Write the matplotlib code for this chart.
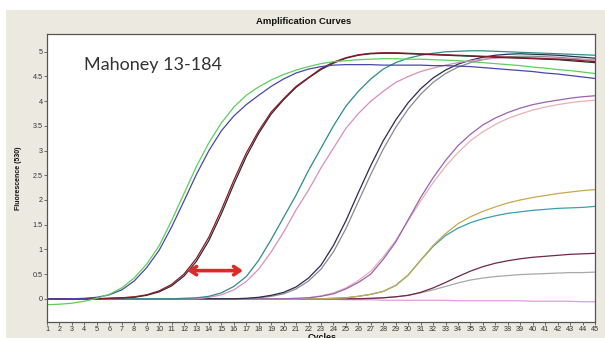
import matplotlib
matplotlib.use("Agg")
import matplotlib.pyplot as plt
from matplotlib.patches import Rectangle

cycles = list(range(1, 46))

green = [-0.12, -0.11, -0.09, -0.05, 0.01, 0.09, 0.22, 0.42, 0.70, 1.07,
         1.58, 2.13, 2.68, 3.16, 3.56, 3.88, 4.12, 4.29, 4.43, 4.54,
         4.63, 4.70, 4.76, 4.80, 4.82, 4.84, 4.85, 4.86, 4.86, 4.85,
         4.85, 4.84, 4.83, 4.82, 4.80, 4.78, 4.76, 4.74, 4.72, 4.69,
         4.67, 4.64, 4.62, 4.59, 4.56]
blue = [0.00, 0.00, 0.00, 0.01, 0.03, 0.08, 0.18, 0.36, 0.63, 0.98,
        1.45, 1.98, 2.52, 3.00, 3.40, 3.70, 3.93, 4.12, 4.30, 4.45,
        4.57, 4.65, 4.70, 4.73, 4.74, 4.74, 4.74, 4.73, 4.73, 4.73,
        4.73, 4.72, 4.72, 4.71, 4.70, 4.68, 4.66, 4.64, 4.62, 4.60,
        4.57, 4.55, 4.52, 4.49, 4.46]
darkred = [0.00, 0.00, 0.00, 0.00, 0.00, 0.01, 0.02, 0.04, 0.08, 0.16,
           0.29, 0.50, 0.82, 1.25, 1.80, 2.40, 2.95, 3.40, 3.78, 4.05,
           4.30, 4.48, 4.66, 4.79, 4.88, 4.94, 4.97, 4.98, 4.98, 4.97,
           4.96, 4.95, 4.94, 4.93, 4.92, 4.91, 4.90, 4.89, 4.88, 4.87,
           4.86, 4.85, 4.84, 4.82, 4.80]
black = [0.00, 0.00, 0.00, 0.00, 0.00, 0.01, 0.02, 0.03, 0.07, 0.14,
         0.26, 0.46, 0.76, 1.18, 1.72, 2.32, 2.88, 3.35, 3.74, 4.03,
         4.28, 4.47, 4.64, 4.77, 4.87, 4.93, 4.96, 4.97, 4.97, 4.96,
         4.95, 4.94, 4.93, 4.92, 4.91, 4.90, 4.89, 4.88, 4.87, 4.86,
         4.85, 4.84, 4.82, 4.80, 4.78]
teal = [0.00, 0.00, 0.00, 0.00, 0.00, 0.00, 0.00, 0.00, 0.00, 0.00,
        0.00, 0.01, 0.02, 0.05, 0.12, 0.25, 0.45, 0.78, 1.20, 1.65,
        2.10, 2.60, 3.05, 3.50, 3.90, 4.20, 4.45, 4.65, 4.78, 4.87,
        4.93, 4.97, 5.00, 5.01, 5.02, 5.02, 5.01, 5.00, 4.99, 4.98,
        4.97, 4.96, 4.95, 4.94, 4.93]
pink = [0.00, 0.00, 0.00, 0.00, 0.00, 0.00, 0.00, 0.00, 0.00, 0.00,
        0.00, 0.00, 0.00, 0.03, 0.08, 0.18, 0.35, 0.60, 0.95, 1.35,
        1.80, 2.20, 2.65, 3.05, 3.45, 3.75, 4.00, 4.20, 4.38, 4.50,
        4.60, 4.67, 4.73, 4.78, 4.82, 4.85, 4.87, 4.88, 4.88, 4.88,
        4.87, 4.86, 4.85, 4.84, 4.83]
navy = [0.00, 0.00, 0.00, 0.00, 0.00, 0.00, 0.00, 0.00, 0.00, 0.00,
        0.00, 0.00, 0.00, 0.00, 0.00, 0.00, 0.01, 0.03, 0.07, 0.13,
        0.24, 0.42, 0.68, 1.08, 1.58, 2.15, 2.70, 3.20, 3.62, 3.97,
        4.25, 4.47, 4.63, 4.75, 4.83, 4.89, 4.93, 4.95, 4.96, 4.95,
        4.94, 4.93, 4.91, 4.89, 4.87]
gray = [0.00, 0.00, 0.00, 0.00, 0.00, 0.00, 0.00, 0.00, 0.00, 0.00,
        0.00, 0.00, 0.00, 0.00, 0.00, 0.00, 0.00, 0.02, 0.05, 0.10,
        0.20, 0.36, 0.60, 0.95, 1.42, 1.97, 2.52, 3.03, 3.47, 3.84,
        4.14, 4.38, 4.56, 4.69, 4.78, 4.84, 4.88, 4.90, 4.91, 4.91,
        4.90, 4.89, 4.87, 4.85, 4.83]
purple = [0.00, 0.00, 0.00, 0.00, 0.00, 0.00, 0.00, 0.00, 0.00, 0.00,
          0.00, 0.00, 0.00, 0.00, 0.00, 0.00, 0.00, 0.00, 0.00, 0.00,
          0.01, 0.02, 0.05, 0.10, 0.20, 0.33, 0.50, 0.80, 1.15, 1.60,
          2.05, 2.45, 2.80, 3.10, 3.33, 3.52, 3.66, 3.77, 3.86, 3.93,
          3.98, 4.02, 4.06, 4.09, 4.11]
lightpink = [0.00, 0.00, 0.00, 0.00, 0.00, 0.00, 0.00, 0.00, 0.00, 0.00,
             0.00, 0.00, 0.00, 0.00, 0.00, 0.00, 0.00, 0.00, 0.00, 0.00,
             0.00, 0.02, 0.06, 0.12, 0.22, 0.37, 0.56, 0.85, 1.18, 1.58,
             1.98, 2.35, 2.68, 2.96, 3.20, 3.38, 3.53, 3.65, 3.74, 3.82,
             3.88, 3.93, 3.97, 4.00, 4.02]
orange = [0.00, 0.00, 0.00, 0.00, 0.00, 0.00, 0.00, 0.00, 0.00, 0.00,
          0.00, 0.00, 0.00, 0.00, 0.00, 0.00, 0.00, 0.00, 0.00, 0.00,
          0.00, 0.00, 0.00, 0.01, 0.02, 0.05, 0.09, 0.15, 0.27, 0.48,
          0.78, 1.08, 1.32, 1.52, 1.66, 1.77, 1.86, 1.94, 2.00, 2.05,
          2.09, 2.13, 2.16, 2.19, 2.21]
teal2 = [0.00, 0.00, 0.00, 0.00, 0.00, 0.00, 0.00, 0.00, 0.00, 0.00,
         0.00, 0.00, 0.00, 0.00, 0.00, 0.00, 0.00, 0.00, 0.00, 0.00,
         0.00, 0.00, 0.00, 0.01, 0.02, 0.05, 0.09, 0.15, 0.27, 0.48,
         0.78, 1.06, 1.28, 1.43, 1.54, 1.62, 1.68, 1.73, 1.76, 1.79,
         1.81, 1.83, 1.84, 1.85, 1.87]
maroon = [0.00, 0.00, 0.00, 0.00, 0.00, 0.00, 0.00, 0.00, 0.00, 0.00,
          0.00, 0.00, 0.00, 0.00, 0.00, 0.00, 0.00, 0.00, 0.00, 0.00,
          0.00, 0.00, 0.00, 0.00, 0.00, 0.00, 0.01, 0.02, 0.04, 0.07,
          0.13, 0.22, 0.33, 0.45, 0.56, 0.65, 0.72, 0.77, 0.81, 0.84,
          0.86, 0.88, 0.90, 0.91, 0.92]
gray2 = [0.00, 0.00, 0.00, 0.00, 0.00, 0.00, 0.00, 0.00, 0.00, 0.00,
         0.00, 0.00, 0.00, 0.00, 0.00, 0.00, 0.00, 0.00, 0.00, 0.00,
         0.00, 0.00, 0.00, 0.00, 0.00, 0.00, 0.00, 0.02, 0.04, 0.07,
         0.12, 0.18, 0.25, 0.32, 0.38, 0.42, 0.45, 0.47, 0.49, 0.50,
         0.51, 0.52, 0.53, 0.53, 0.54]
flat = [-0.01, -0.01, -0.01, -0.01, -0.01, -0.01, -0.01, -0.01, -0.01, -0.01,
        -0.01, -0.01, -0.01, -0.01, -0.01, -0.01, -0.01, -0.01, -0.01, -0.01,
        -0.01, -0.01, -0.01, -0.01, -0.02, -0.02, -0.02, -0.03, -0.03, -0.03,
        -0.03, -0.03, -0.03, -0.04, -0.04, -0.04, -0.04, -0.04, -0.04, -0.05,
        -0.05, -0.05, -0.05, -0.06, -0.06]

series = [
    (flat, "#e39be3"),
    (gray2, "#a8a8a8"),
    (maroon, "#6e2848"),
    (teal2, "#3a9fb0"),
    (orange, "#c9a84e"),
    (lightpink, "#e6b0b8"),
    (purple, "#9a62b0"),
    (gray, "#8a8a8a"),
    (navy, "#2a2a55"),
    (pink, "#d68fbf"),
    (teal, "#2f8a8a"),
    (black, "#2a2a2a"),
    (darkred, "#8b1a2a"),
    (blue, "#4848a8"),
    (green, "#5ccf5c"),
]

y_ticks = [0, 0.5, 1, 1.5, 2, 2.5, 3, 3.5, 4, 4.5, 5]
y_ticklabels = ["0", "0.5", "1", "1.5", "2", "2.5", "3", "3.5", "4", "4.5", "5"]
arrow_start = (12.25, 0.57)
arrow_end = (16.74, 0.57)

W, H = 605, 338
fig = plt.figure(figsize=(W / 100, H / 100), dpi=100)
fig.patch.set_facecolor("white")
fig.add_artist(Rectangle((6 / W, 0), 1, (H - 10) / H, transform=fig.transFigure,
                         facecolor="#ece9e0", edgecolor="none", zorder=-10))

ax = fig.add_axes([47 / W, 1 - 322 / H, (595 - 47) / W, (322 - 34) / H])
ax.set_facecolor("white")
for vals, col in series:
    ax.plot(cycles, vals, color=col, lw=0.9)

ax.set_xlim(1, 45)
ax.set_ylim(-0.47, 5.36)
ax.set_xticks(cycles)
ax.set_xticklabels([str(c) for c in cycles], fontsize=5.2, family="Liberation Sans", color="#333333")
ax.set_yticks(y_ticks)
ax.set_yticklabels(y_ticklabels, fontsize=5.2, family="Liberation Sans", color="#333333")
ax.tick_params(length=2.2, width=0.6, color="#555555", pad=1.0)
for sp in ax.spines.values():
    sp.set_color("#555555")
    sp.set_linewidth(0.9)

ax.annotate("", xy=arrow_end, xytext=arrow_start,
            arrowprops=dict(arrowstyle="<->,head_length=0.45,head_width=0.3",
                            color="#e02828", lw=2.6, shrinkA=0, shrinkB=0))

ax.text(0.068, 0.893, "Mahoney 13-184", transform=ax.transAxes, fontsize=13,
        family="Lato", color="#333333", va="center", ha="left")

fig.text(304 / W, 1 - 22 / H, "Amplification Curves", fontsize=6.8, fontweight="bold",
         family="Liberation Sans", ha="center", va="center", color="#111111")
fig.text(18 / W, 1 - 178 / H, "Fluorescence (530)", fontsize=5, fontweight="bold",
         family="Liberation Sans", rotation=90, ha="center", va="center", color="#111111")
fig.text(322 / W, 1 - 333 / H, "Cycles", fontsize=6.5, fontweight="bold",
         family="Liberation Sans", ha="center", va="top", color="#111111")

fig.savefig("out.png", dpi=100)
